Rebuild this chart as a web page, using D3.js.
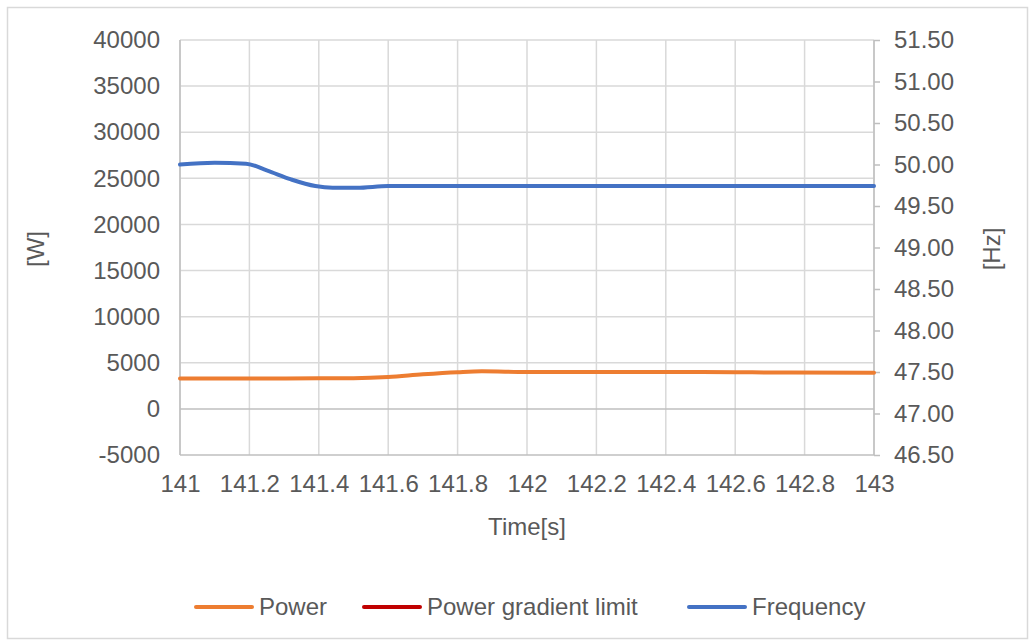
<!DOCTYPE html>
<html><head><meta charset="utf-8">
<script src="https://cdn.jsdelivr.net/npm/d3@7"></script>
<style>
html,body{margin:0;padding:0;background:#fff;}
text{font-family:"Liberation Sans",Arial,sans-serif;fill:#595959;}
</style></head>
<body><svg id="c" width="1035" height="643"></svg>
<script>
// ---- data ----
const xTicks = [141,141.2,141.4,141.6,141.8,142,142.2,142.4,142.6,142.8,143];
const xTickLabels = ["141","141.2","141.4","141.6","141.8","142","142.2","142.4","142.6","142.8","143"];
const wTicks = [-5000,0,5000,10000,15000,20000,25000,30000,35000,40000];
const hzTicks = [46.5,47,47.5,48,48.5,49,49.5,50,50.5,51,51.5];

const powerTime  = [141.0,141.2,141.4,141.5,141.6,141.7,141.8,141.87,142.0,142.2,142.4,142.6,142.7,143.0];
const powerValue = [3300,3300,3310,3330,3460,3750,3980,4080,4000,3990,3990,3980,3940,3930];

const gradientTime  = [];
const gradientValue = [];

const freqTime  = [141.0,141.1,141.19,141.25,141.32,141.39,141.44,141.51,141.6,141.8,142.0,142.5,143.0];
const freqValue = [50.00,50.02,50.01,49.93,49.82,49.74,49.72,49.72,49.74,49.74,49.74,49.74,49.74];

const seriesNames = ["Power","Power gradient limit","Frequency"];
const seriesColors = ["#ED7D31","#C00000","#4472C4"];

// ---- layout ----
const svg = d3.select("#c");
const L = 180, R = 874, T = 40, B = 455;
const x = d3.scaleLinear().domain([141,143]).range([L,R]);
const yW = d3.scaleLinear().domain([-5000,40000]).range([B,T]);
const yH = d3.scaleLinear().domain([46.5,51.5]).range([B,T]);

// outer frame
svg.append("rect").attr("x",7.5).attr("y",7.5).attr("width",1020).attr("height",631)
  .attr("fill","#fff").attr("stroke","#d9d9d9").attr("stroke-width",1.5);

const grid = svg.append("g");
grid.selectAll("line.v").data(xTicks).join("line")
  .attr("x1",d=>x(d)).attr("x2",d=>x(d)).attr("y1",T).attr("y2",B)
  .attr("stroke","#d9d9d9").attr("stroke-width",1.5);
grid.selectAll("line.h").data(wTicks).join("line")
  .attr("x1",L).attr("x2",R).attr("y1",d=>yW(d)).attr("y2",d=>yW(d))
  .attr("stroke",d=>(d===0||d===-5000)?"#bfbfbf":"#d9d9d9").attr("stroke-width",1.5);
svg.append("line").attr("x1",L).attr("x2",L).attr("y1",T).attr("y2",B).attr("stroke","#bfbfbf").attr("stroke-width",1.5);
svg.append("line").attr("x1",R).attr("x2",R).attr("y1",T).attr("y2",B).attr("stroke","#bfbfbf").attr("stroke-width",1.5);

const fmtW = d => String(d);
// left axis labels
const axL = svg.append("g").attr("transform",`translate(${L},0)`)
  .call(d3.axisLeft(yW).tickValues(wTicks).tickSize(0).tickPadding(20).tickFormat(fmtW));
axL.select(".domain").remove();
axL.selectAll("text").attr("font-size",24).attr("fill","#595959").attr("font-family","Liberation Sans, Arial, sans-serif");

// right axis
const axR = svg.append("g").attr("transform",`translate(${R},0)`)
  .call(d3.axisRight(yH).tickValues(hzTicks).tickSize(6).tickPadding(14).tickFormat(d=>d.toFixed(2)));
axR.select(".domain").remove();
axR.selectAll("line").attr("stroke","#bfbfbf").attr("stroke-width",1.5);
axR.selectAll("text").attr("font-size",24).attr("fill","#595959").attr("font-family","Liberation Sans, Arial, sans-serif");

// bottom axis labels
const axB = svg.append("g").attr("transform",`translate(0,${B})`)
  .call(d3.axisBottom(x).tickValues(xTicks).tickSize(0).tickPadding(20).tickFormat((d,i)=>xTickLabels[i]));
axB.select(".domain").remove();
axB.selectAll("text").attr("font-size",24).attr("fill","#595959").attr("font-family","Liberation Sans, Arial, sans-serif");

// axis titles
svg.append("text").attr("x",527).attr("y",535).attr("text-anchor","middle").attr("font-size",24).text("Time[s]");
svg.append("text").attr("transform","translate(44,249) rotate(-90)").attr("text-anchor","middle").attr("font-size",24).text("[W]");
svg.append("text").attr("transform","translate(1000,249) rotate(-90)").attr("text-anchor","middle").attr("font-size",24).text("[Hz]");

// lines
const lineW = d3.line().x(d=>x(d[0])).y(d=>yW(d[1])).curve(d3.curveMonotoneX);
const lineH = d3.line().x(d=>x(d[0])).y(d=>yH(d[1])).curve(d3.curveMonotoneX);
const powerData = powerTime.map((t,i)=>[t,powerValue[i]]);
const gradData = gradientTime.map((t,i)=>[t,gradientValue[i]]);
const freqData = freqTime.map((t,i)=>[t,freqValue[i]]);

svg.append("path").datum(powerData).attr("d",lineW).attr("fill","none").attr("stroke",seriesColors[0]).attr("stroke-width",4).attr("stroke-linecap","round");
if (gradData.length) svg.append("path").datum(gradData).attr("d",lineW).attr("fill","none").attr("stroke",seriesColors[1]).attr("stroke-width",4);
svg.append("path").datum(freqData).attr("d",lineH).attr("fill","none").attr("stroke",seriesColors[2]).attr("stroke-width",4).attr("stroke-linecap","round");

// legend
const legX = [196,364,689];
const lg = svg.append("g");
seriesNames.forEach((n,i)=>{
  lg.append("line").attr("x1",legX[i]).attr("x2",legX[i]+56).attr("y1",607).attr("y2",607)
    .attr("stroke",seriesColors[i]).attr("stroke-width",4).attr("stroke-linecap","round");
  lg.append("text").attr("x",legX[i]+63).attr("y",607).attr("dy","0.35em").attr("font-size",24).text(n);
});
</script></body></html>
